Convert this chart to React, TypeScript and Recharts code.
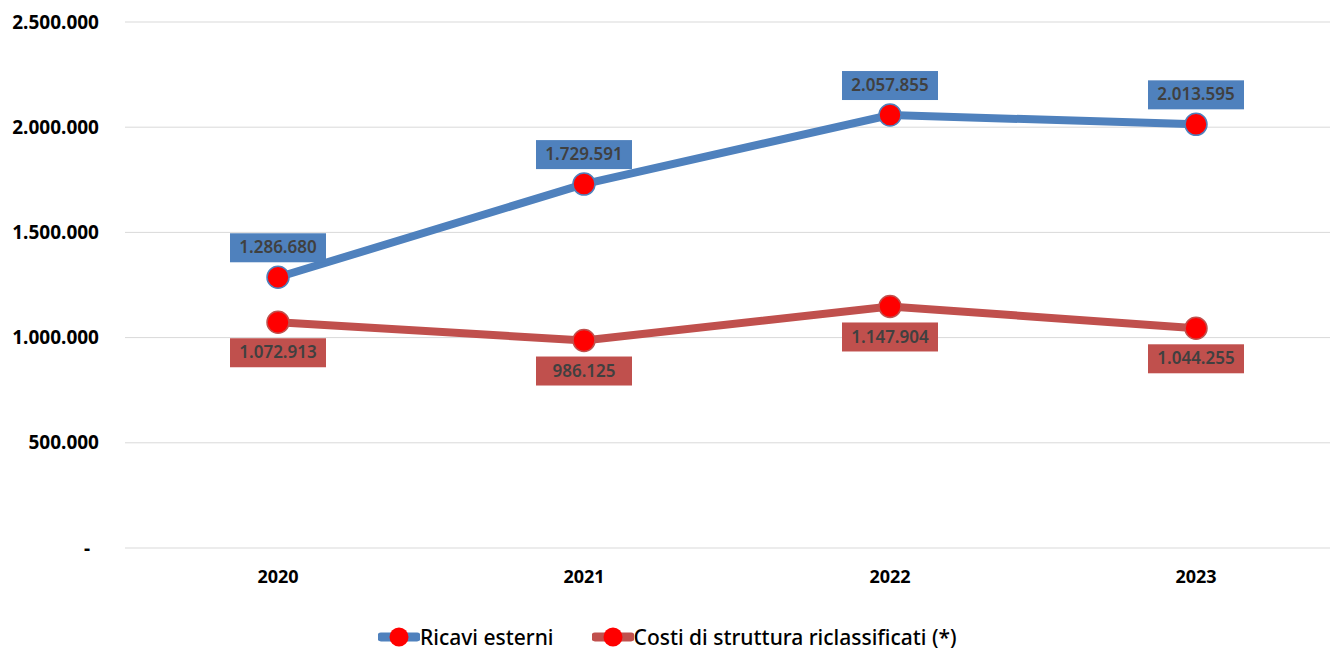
import { LineChart, Line, XAxis, YAxis, CartesianGrid, LabelList } from 'recharts';

const years = ['2020', '2021', '2022', '2023'];
const ricaviEsterni = [1286680, 1729591, 2057855, 2013595];
const costiStruttura = [1072913, 986125, 1147904, 1044255];
const yTicks = [0, 500000, 1000000, 1500000, 2000000, 2500000];

const BLUE = '#4f81bd';
const RED = '#c0504d';
const FONT = '"Noto Sans", "Open Sans", sans-serif';

const data = years.map((y, i) => ({ year: y, ricavi: ricaviEsterni[i], costi: costiStruttura[i] }));

function fmt(v: number) {
  if (v === 0) return '-';
  return String(Math.round(v)).replace(/\B(?=(\d{3})+(?!\d))/g, '.');
}

function YTick({ x, y, payload }: any) {
  const isZero = payload.value === 0;
  return (
    <text x={isZero ? x - 9 : x} y={y} dy="0.35em" textAnchor="end" fontFamily={FONT} fontSize={19} fontWeight="bold" fill="#000">
      {fmt(payload.value)}
    </text>
  );
}

function makeLabel(color: string, above: boolean) {
  return (props: any) => {
    const { x, y, value } = props;
    const cy = above ? y - 30 : y + 30;
    return (
      <g>
        <rect x={x - 48} y={cy - 14} width={96} height={29} fill={color} />
        <text x={x} y={cy} dy="0.36em" textAnchor="middle" fontFamily={FONT} fontSize={17} fontWeight={600} fill="#404040">
          {fmt(value)}
        </text>
      </g>
    );
  };
}

function LegendItem({ color, text }: { color: string; text: string }) {
  return (
    <div style={{ display: 'flex', alignItems: 'center' }}>
      <svg width={42} height={22}>
        <line x1={3} y1={11} x2={39} y2={11} stroke={color} strokeWidth={9} strokeLinecap="round" />
        <circle cx={21} cy={11} r={9.5} fill="#ff0000" />
      </svg>
      <span>{text}</span>
    </div>
  );
}

export default function App() {
  return (
    <div style={{ marginLeft: -8, marginTop: -8, width: 1338, height: 653, overflow: 'hidden', position: 'relative', background: '#fff' }}>
      <LineChart width={1349} height={653} data={data} margin={{ top: 22, right: 0, left: 0, bottom: 0 }}>
        <CartesianGrid vertical={false} stroke="#d9d9d9" strokeWidth={1} />
        <XAxis
          dataKey="year"
          height={105}
          axisLine={false}
          tickLine={false}
          tickSize={0}
          tickMargin={22}
          padding={{ left: 153, right: 153 }}
          tick={{ fontFamily: FONT, fontSize: 18, fontWeight: 'bold', fill: '#000' }}
        />
        <YAxis
          width={125}
          domain={[0, 2500000]}
          ticks={yTicks}
          axisLine={false}
          tickLine={false}
          tickSize={0}
          tickMargin={26}
          tick={<YTick />}
        />
        <Line
          dataKey="ricavi"
          stroke={BLUE}
          strokeWidth={8}
          isAnimationActive={false}
          dot={{ r: 11, fill: '#ff0000', stroke: BLUE, strokeWidth: 1.5 }}
          activeDot={false}
        >
          <LabelList dataKey="ricavi" content={makeLabel(BLUE, true)} />
        </Line>
        <Line
          dataKey="costi"
          stroke={RED}
          strokeWidth={8}
          isAnimationActive={false}
          dot={{ r: 11, fill: '#ff0000', stroke: RED, strokeWidth: 1.5 }}
          activeDot={false}
        >
          <LabelList dataKey="costi" content={makeLabel(RED, false)} />
        </Line>
      </LineChart>
      <div
        style={{
          position: 'absolute',
          top: 625,
          left: 378,
          display: 'flex',
          gap: 38,
          fontFamily: FONT,
          fontSize: 21,
          fontWeight: 500,
          color: '#000',
          lineHeight: '24px',
        }}
      >
        <LegendItem color={BLUE} text="Ricavi esterni" />
        <LegendItem color={RED} text="Costi di struttura riclassificati (*)" />
      </div>
    </div>
  );
}
